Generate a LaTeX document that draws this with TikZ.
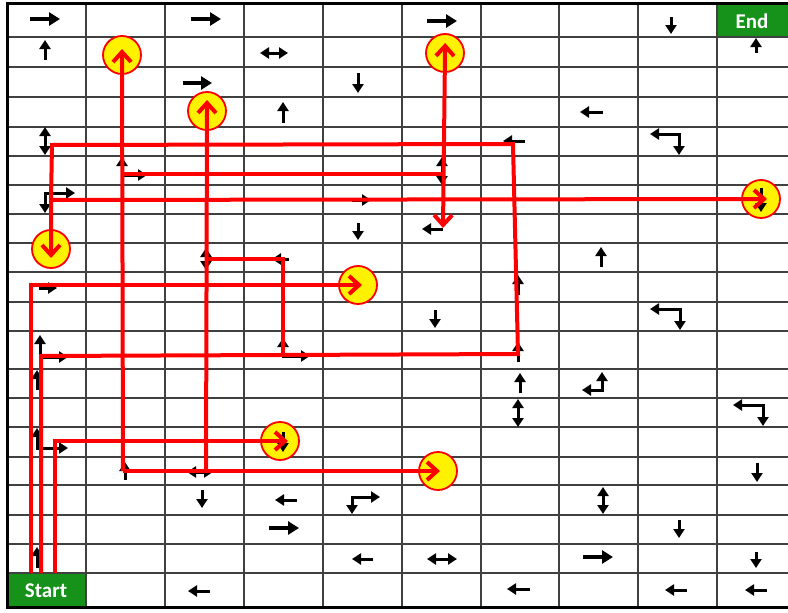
\documentclass[tikz,border=0pt]{standalone}
\usepackage{fontspec}
\setsansfont{Carlito}
\usetikzlibrary{arrows.meta}
\definecolor{boxgreen}{RGB}{22,145,26}
\definecolor{routered}{RGB}{255,0,0}

\begin{document}
\begin{tikzpicture}[x=1pt,y=-1pt,
    cellline/.style={draw=black!75,line width=1.1pt},
    rim/.style={line width=3pt},
    sign/.style={line width=3pt,-{Triangle[length=9pt,width=11pt]}},
    bigsign/.style={line width=3.3pt,-{Triangle[length=11pt,width=13pt]}},
    twosign/.style={line width=3pt,{Triangle[length=9pt,width=11pt]}-{Triangle[length=9pt,width=11pt]}},
    route/.style={draw=routered,line width=4pt},
    goal/.style={circle,draw=routered,line width=1.8pt,fill=yellow,minimum size=38pt,inner sep=0pt},
    tag/.style={text=white,font=\sffamily\bfseries\fontsize{21}{21}\selectfont},
    >={Straight Barb[length=10pt,width=18pt]}]
      \useasboundingbox (0,0) rectangle (788,613);
      % board
      \fill[boxgreen] (717,3) rectangle (790,37);
      \fill[boxgreen] (7,573) rectangle (86,607);
      \foreach \gx in {86,165,244,323,402,481,559,638,717}
        \draw[cellline] (\gx,3) -- (\gx,607);
      \foreach \gy in {37,67,97,127,156,185,214,243,272,302,331,369,398,427,457,485,515,544,573}
        \draw[cellline] (7,\gy) -- (790,\gy);
      \draw[rim] (790,3) -- (7,3) -- (7,607) -- (790,607);
      \node[tag] (end) at (752,21) {End};
      \node[tag] (start) at (46,591) {Start};
      % targets
      \node[goal] (c1) at (122,55) {};
      \node[goal] (c2) at (445,53) {};
      \node[goal] (c3) at (207,111) {};
      \node[goal] (c4) at (761,199) {};
      \node[goal] (c5) at (51,249) {};
      \node[goal] (c6) at (358,285) {};
      \node[goal] (c7) at (280,441) {};
      \node[goal] (c8) at (438,471) {};
      % cell arrows
      \foreach \ry/\xa/\xb in {19/30/60,19/191/221,21/427/457,83/183/212,528/269/299,557/583/613}
        \draw[bigsign] (\xa,\ry) -- (\xb,\ry);
      \foreach \ry/\xa/\xb in {288/39/57,200/352/371,112/603/580,141/525/503,229/443/422,259/289/272,
                               500/297/275,559/373/352,591/210/188,589/530/507,590/687/665,590/767/745}
        \draw[sign] (\xa,\ry) -- (\xb,\ry);
      \foreach \rx/\ya/\yb in {45/60/40,756/53/38,283/123/102,601/267/247,518/295/275,518/362/342,
                               37/390/370,520/393/373,125/480/462,37/568/547,671/17/34,358/73/93,
                               358/223/240,435/310/328,283/432/452,757/463/482,202/490/508,
                               679/520/538,756/552/568,761/188/212}
        \draw[sign] (\rx,\ya) -- (\rx,\yb);
      \foreach \rx/\ya/\yb in {45/127/155,442/157/185,206/248/270,518/399/427,603/487/514}
        \draw[twosign] (\rx,\ya) -- (\rx,\yb);
      \foreach \ry/\xa/\xb in {53/260/288,472/187/213,559/427/457}
        \draw[twosign] (\xa,\ry) -- (\xb,\ry);
      \draw[twosign] (650,134) -- (679,134) -- (679,155);
      \draw[twosign] (650,309) -- (680,309) -- (680,330);
      \draw[twosign] (733,405) -- (763,405) -- (763,426);
      \draw[twosign] (122,157) -- (122,175) -- (147,175);
      \draw[twosign] (75,193) -- (45,193) -- (45,213);
      \draw[twosign] (40,335) -- (40,357) -- (68,357);
      \draw[twosign] (283,338) -- (283,356) -- (310,356);
      \draw[twosign] (602,372) -- (602,390) -- (582,390);
      \draw[twosign] (37,428) -- (37,448) -- (68,448);
      \draw[twosign] (380,497) -- (352,497) -- (352,514);
      % routes
      \coordinate (s1) at (31,573);
      \coordinate (s2) at (41,573);
      \coordinate (s3) at (55,573);
      \coordinate (k1) at (41,356);
      \coordinate (k2) at (518,354);
      \coordinate (k3) at (513,144);
      \coordinate (k4) at (52,145);
      \coordinate (k5) at (51,200);
      \coordinate (k6) at (283,356);
      \coordinate (k8) at (206,259);
      \coordinate (k9) at (123,471);
      \coordinate (k10) at (206,471);
      \coordinate (k11) at (122,174);
      \coordinate (k12) at (443,174);
      \coordinate (k13) at (443,228);
      \draw[route,->,shorten >=-4pt] (s1) |- (c6.center);
      \draw[route,->,shorten >=-8pt] (s3) |- (c7.center);
      \draw[route,->,shorten >=-9pt] (s2) -- (k1) -- (k2) -- (k3) -- (k4) -- (k5) -- (c5.center);
      \draw[route,->,shorten >=-6pt] (k5) -- (c4.center);
      \draw[route] (k6) |- (k8);
      \draw[route,->,shorten >=-11pt] (k10) -- (c3.center);
      \draw[route,->,shorten >=-6pt] (k9) -- (c1.center);
      \draw[route,->,shorten >=-2pt] (k9) -- (c8.center);
      \draw[route] (k11) -- (k12);
      \draw[route,<->,shorten >=-10pt] (k13) -- (c2.center);
    \end{tikzpicture}
\end{document}
